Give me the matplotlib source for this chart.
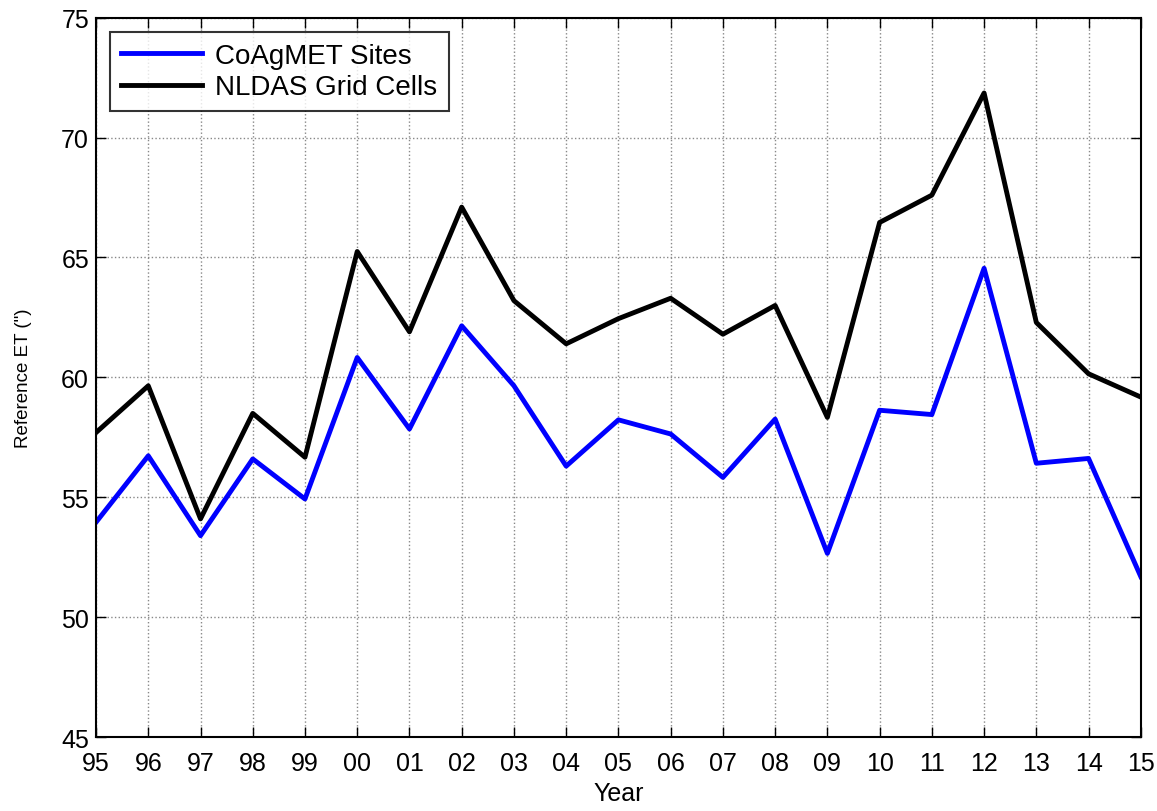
import matplotlib
matplotlib.use('Agg')
import matplotlib.pyplot as plt
import numpy as np

plt.rcParams['font.family'] = ['Liberation Sans', 'DejaVu Sans']

# Water years 1995-2015, annual reference ET (inches)
years = np.arange(1995, 2016)
year_labels = ['95', '96', '97', '98', '99', '00', '01', '02', '03', '04', '05',
               '06', '07', '08', '09', '10', '11', '12', '13', '14', '15']
coagmet = [53.96, 56.73, 53.4, 56.6, 54.93, 60.83, 57.85, 62.15, 59.65, 56.3, 58.23,
           57.64, 55.83, 58.26, 52.66, 58.63, 58.45, 64.55, 56.42, 56.62, 51.69]
nldas = [57.7, 59.65, 54.1, 58.5, 56.67, 65.25, 61.9, 67.1, 63.2, 61.4, 62.45,
         63.3, 61.8, 63.0, 58.33, 66.46, 67.6, 71.86, 62.29, 60.15, 59.18]

fig = plt.figure(figsize=(11.57, 8.12), dpi=100)
ax = fig.add_axes([0.083, 0.091, 0.903, 0.886])

ax.plot(years, coagmet, color='#0000ff', lw=3.5, label='CoAgMET Sites')
ax.plot(years, nldas, color='black', lw=3.5, label='NLDAS Grid Cells')

ax.set_xlim(1995, 2015)
ax.set_ylim(45, 75)
ax.set_xticks(years)
ax.set_xticklabels(year_labels)
ax.set_yticks(np.arange(45, 76, 5))

ax.grid(True, linestyle=':', color='#888888', lw=1.0)
ax.tick_params(direction='in', length=7, width=1, top=True, right=True,
               labelsize=18)
ax.tick_params(axis='x', pad=10)
ax.tick_params(axis='y', pad=5)
for s in ax.spines.values():
    s.set_linewidth(1.5)

ax.set_xlabel('Year', fontsize=18, labelpad=4)
ax.set_ylabel('Reference ET (")', fontsize=13.5, labelpad=21)

leg = ax.legend(loc='upper left', fontsize=20, frameon=True, fancybox=False,
                edgecolor='black', handlelength=2.9, handletextpad=0.5,
                borderpad=0.4, labelspacing=0.2, bbox_to_anchor=(0.0, 1.0),
                borderaxespad=0.5)
leg.get_frame().set_linewidth(1.5)

fig.savefig('out.png', dpi=100)
